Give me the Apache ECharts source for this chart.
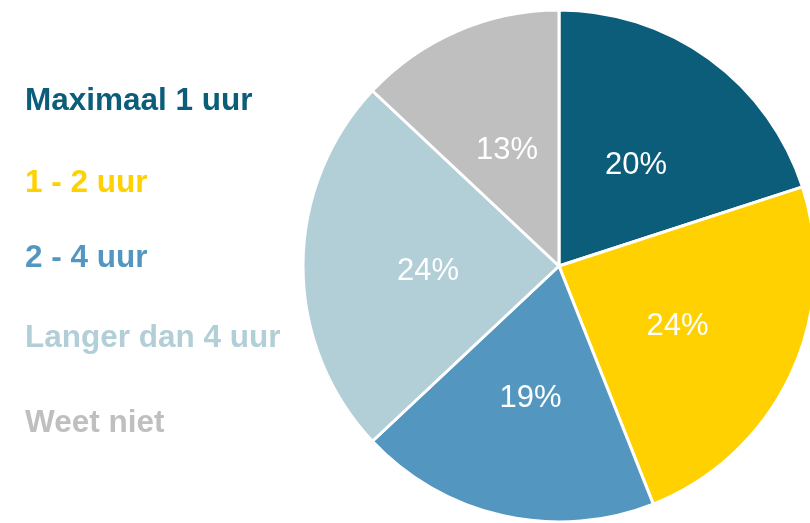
<!DOCTYPE html>
<html>
<head>
<meta charset="utf-8">
<script src="https://cdn.jsdelivr.net/npm/echarts@6/dist/echarts.min.js"></script>
<style>
  html, body { margin: 0; padding: 0; background: #fff; }
  #chart { width: 810px; height: 523px; }
</style>
</head>
<body>
<div id="chart"></div>
<script>
// categorieën en waarden (procenten)
var categories = ["Maximaal 1 uur", "1 - 2 uur", "2 - 4 uur", "Langer dan 4 uur", "Weet niet"];
var values = [20, 24, 19, 24, 13];
var colors = ["#0b5d7a", "#ffd100", "#5397c0", "#b2cfd8", "#bfbfbf"];
// verticale positie (midden) van elke legendaregel
var legendY = [99, 181, 256, 336, 421];

var chart = echarts.init(document.getElementById("chart"));

// elke legendaregel een eigen legend-component, zodat de afstanden kloppen
var legends = categories.map(function (name, i) {
  return {
    data: [{ name: name, textStyle: { color: colors[i] } }],
    left: 19,
    top: legendY[i] - 16,
    padding: 0,
    itemWidth: 0,
    itemHeight: 0,
    selectedMode: false,
    textStyle: {
      fontFamily: "Liberation Sans, Arial, sans-serif",
      fontWeight: "bold",
      fontSize: 31.5,
      lineHeight: 36
    }
  };
});

var option = {
  animation: false,
  color: colors,
  legend: legends,
  series: [
    {
      type: "pie",
      center: [559, 266],
      radius: 256,
      startAngle: 90,
      clockwise: true,
      data: categories.map(function (name, i) {
        return { name: name, value: values[i] };
      }),
      itemStyle: {
        borderColor: "#ffffff",
        borderWidth: 3
      },
      label: {
        position: "inside",
        formatter: "{c}%",
        color: "#ffffff",
        fontFamily: "Liberation Sans, Arial, sans-serif",
        fontSize: 31,
        offset: [0, 5]
      },
      labelLine: { show: false },
      emphasis: { disabled: true }
    }
  ]
};

chart.setOption(option);
</script>
</body>
</html>
